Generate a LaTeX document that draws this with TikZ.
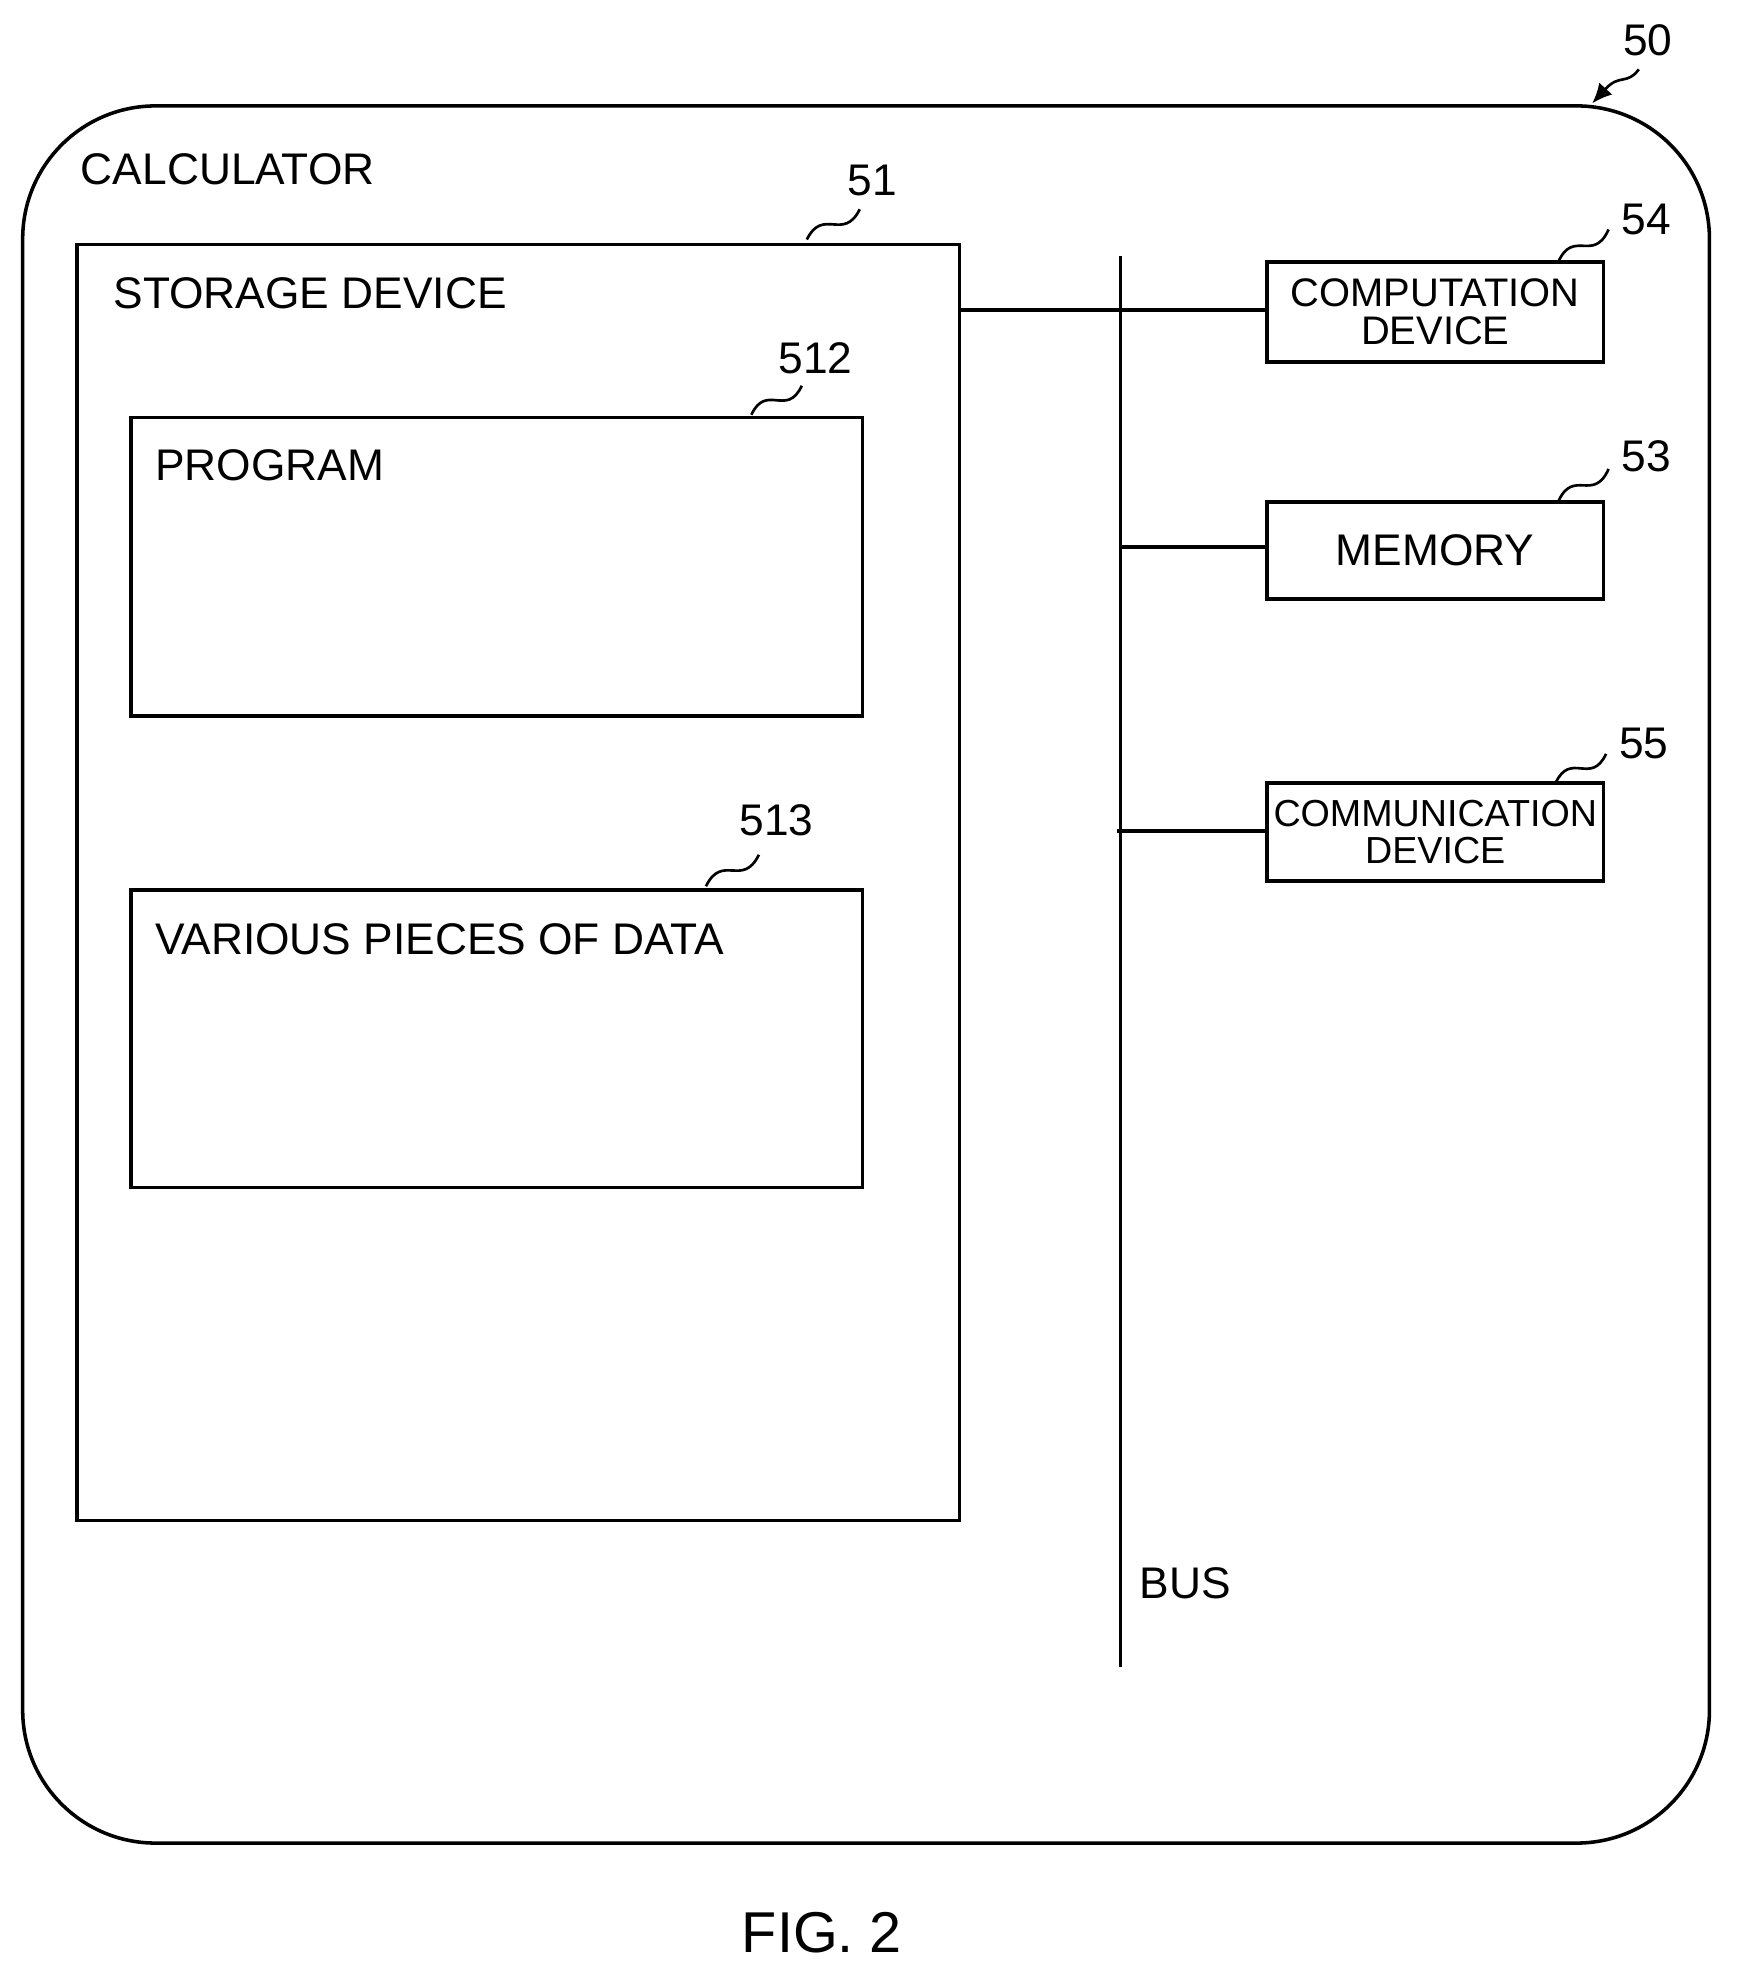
\documentclass[tikz,border=0pt]{standalone}
\usepackage{fontspec}
\setmainfont{Liberation Sans}
\usetikzlibrary{positioning,calc,arrows.meta}
\tikzset{
    >=latex,
    % boxes
    blk/.style={draw, line width=1.6pt},
    lbl/.style={anchor=west, font=\fontsize{20}{22}\selectfont},
    num/.style={font=\fontsize{20}{22}\selectfont},
    wire/.style={line width=1.6pt}
}
% squiggly leader from (#1) to (#2)
\newcommand{\lead}[2]{\draw[line width=1.2pt] (#1) .. controls ($(#1)!0.5!(#2)+(-8,-14)$) and ($(#1)!0.5!(#2)+(8,14)$) .. (#2);}
\begin{document}
\begin{tikzpicture}[x=0.02cm,y=-0.02cm]
\useasboundingbox (0,0) rectangle (1378,1573);
% calculator
\draw[blk, rounded corners=60] (18,84) rectangle (1356,1462);
\node[lbl] (calc) at (58,134) {CALCULATOR};
\node[num] (n50) at (1307,32) {50};
\coordinate (c50) at (1263,82);
\draw[-{Latex[length=9pt,width=8pt]}, line width=1.2pt] (1300,55) .. controls (1290,68) and (1285,58) .. (c50);
% storage device
\draw[blk] (61,194) rectangle (761,1206);
\node[lbl] (stor) at (84,233) {STORAGE DEVICE};
\node[num] (n51) at (692,143) {51};
\coordinate (s51) at (640,190);
\coordinate (e51) at (682,166);
\lead{s51}{e51}
% program
\draw[blk] (104,331) rectangle (684,568);
\node[lbl] (prog) at (117,369) {PROGRAM};
\node[num] (n512) at (647,284) {512};
\coordinate (s512) at (596,329);
\coordinate (e512) at (636,306);
\lead{s512}{e512}
% data
\draw[blk] (104,706) rectangle (684,942);
\node[lbl] (data) at (117,745) {VARIOUS PIECES OF DATA};
\node[num] (n513) at (616,651) {513};
\coordinate (s513) at (560,703);
\coordinate (e513) at (602,678);
\lead{s513}{e513}
% bus
\coordinate (btop) at (889,203);
\coordinate (bbot) at (889,1322);
\draw[wire] (btop) -- (bbot);
\node[lbl] (bus) at (898,1256) {BUS};
% devices
\node[blk, minimum width=267*0.02cm, minimum height=79*0.02cm, align=center,
  font=\fontsize{18}{17}\selectfont, inner sep=0pt] (comp) at (1138.5,247.5) {COMPUTATION\\DEVICE};
\node[blk, minimum width=267*0.02cm, minimum height=77*0.02cm,
  font=\fontsize{20}{22}\selectfont, inner sep=0pt] (mem) at (1138.5,436.5) {MEMORY};
\node[blk, minimum width=267*0.02cm, minimum height=78*0.02cm, align=center,
  font=\fontsize{17}{17}\selectfont, inner sep=0pt] (comm) at (1138.5,660) {COMMUNICATION\\DEVICE};
\coordinate (sp) at (761,246);
\draw[wire] (sp) -- (comp.west |- sp);
\coordinate (bm) at (889,434);
\draw[wire] (bm) -- (mem.west |- bm);
\coordinate (bc) at (886,659);
\draw[wire] (bc) -- (comm.west |- bc);
\node[num] (n54) at (1306,174) {54};
\node[num] (n53) at (1306,362) {53};
\node[num] (n55) at (1304,590) {55};
\coordinate (s54) at (1236,208);
\coordinate (e54) at (1276,182);
\lead{s54}{e54}
\coordinate (s53) at (1236,398);
\coordinate (e53) at (1276,372);
\lead{s53}{e53}
\coordinate (s55) at (1234,621);
\coordinate (e55) at (1274,598);
\lead{s55}{e55}
% caption
\node[font=\fontsize{26}{28}\selectfont] (fig) at (652,1533) {FIG. 2};
\end{tikzpicture}
\end{document}
